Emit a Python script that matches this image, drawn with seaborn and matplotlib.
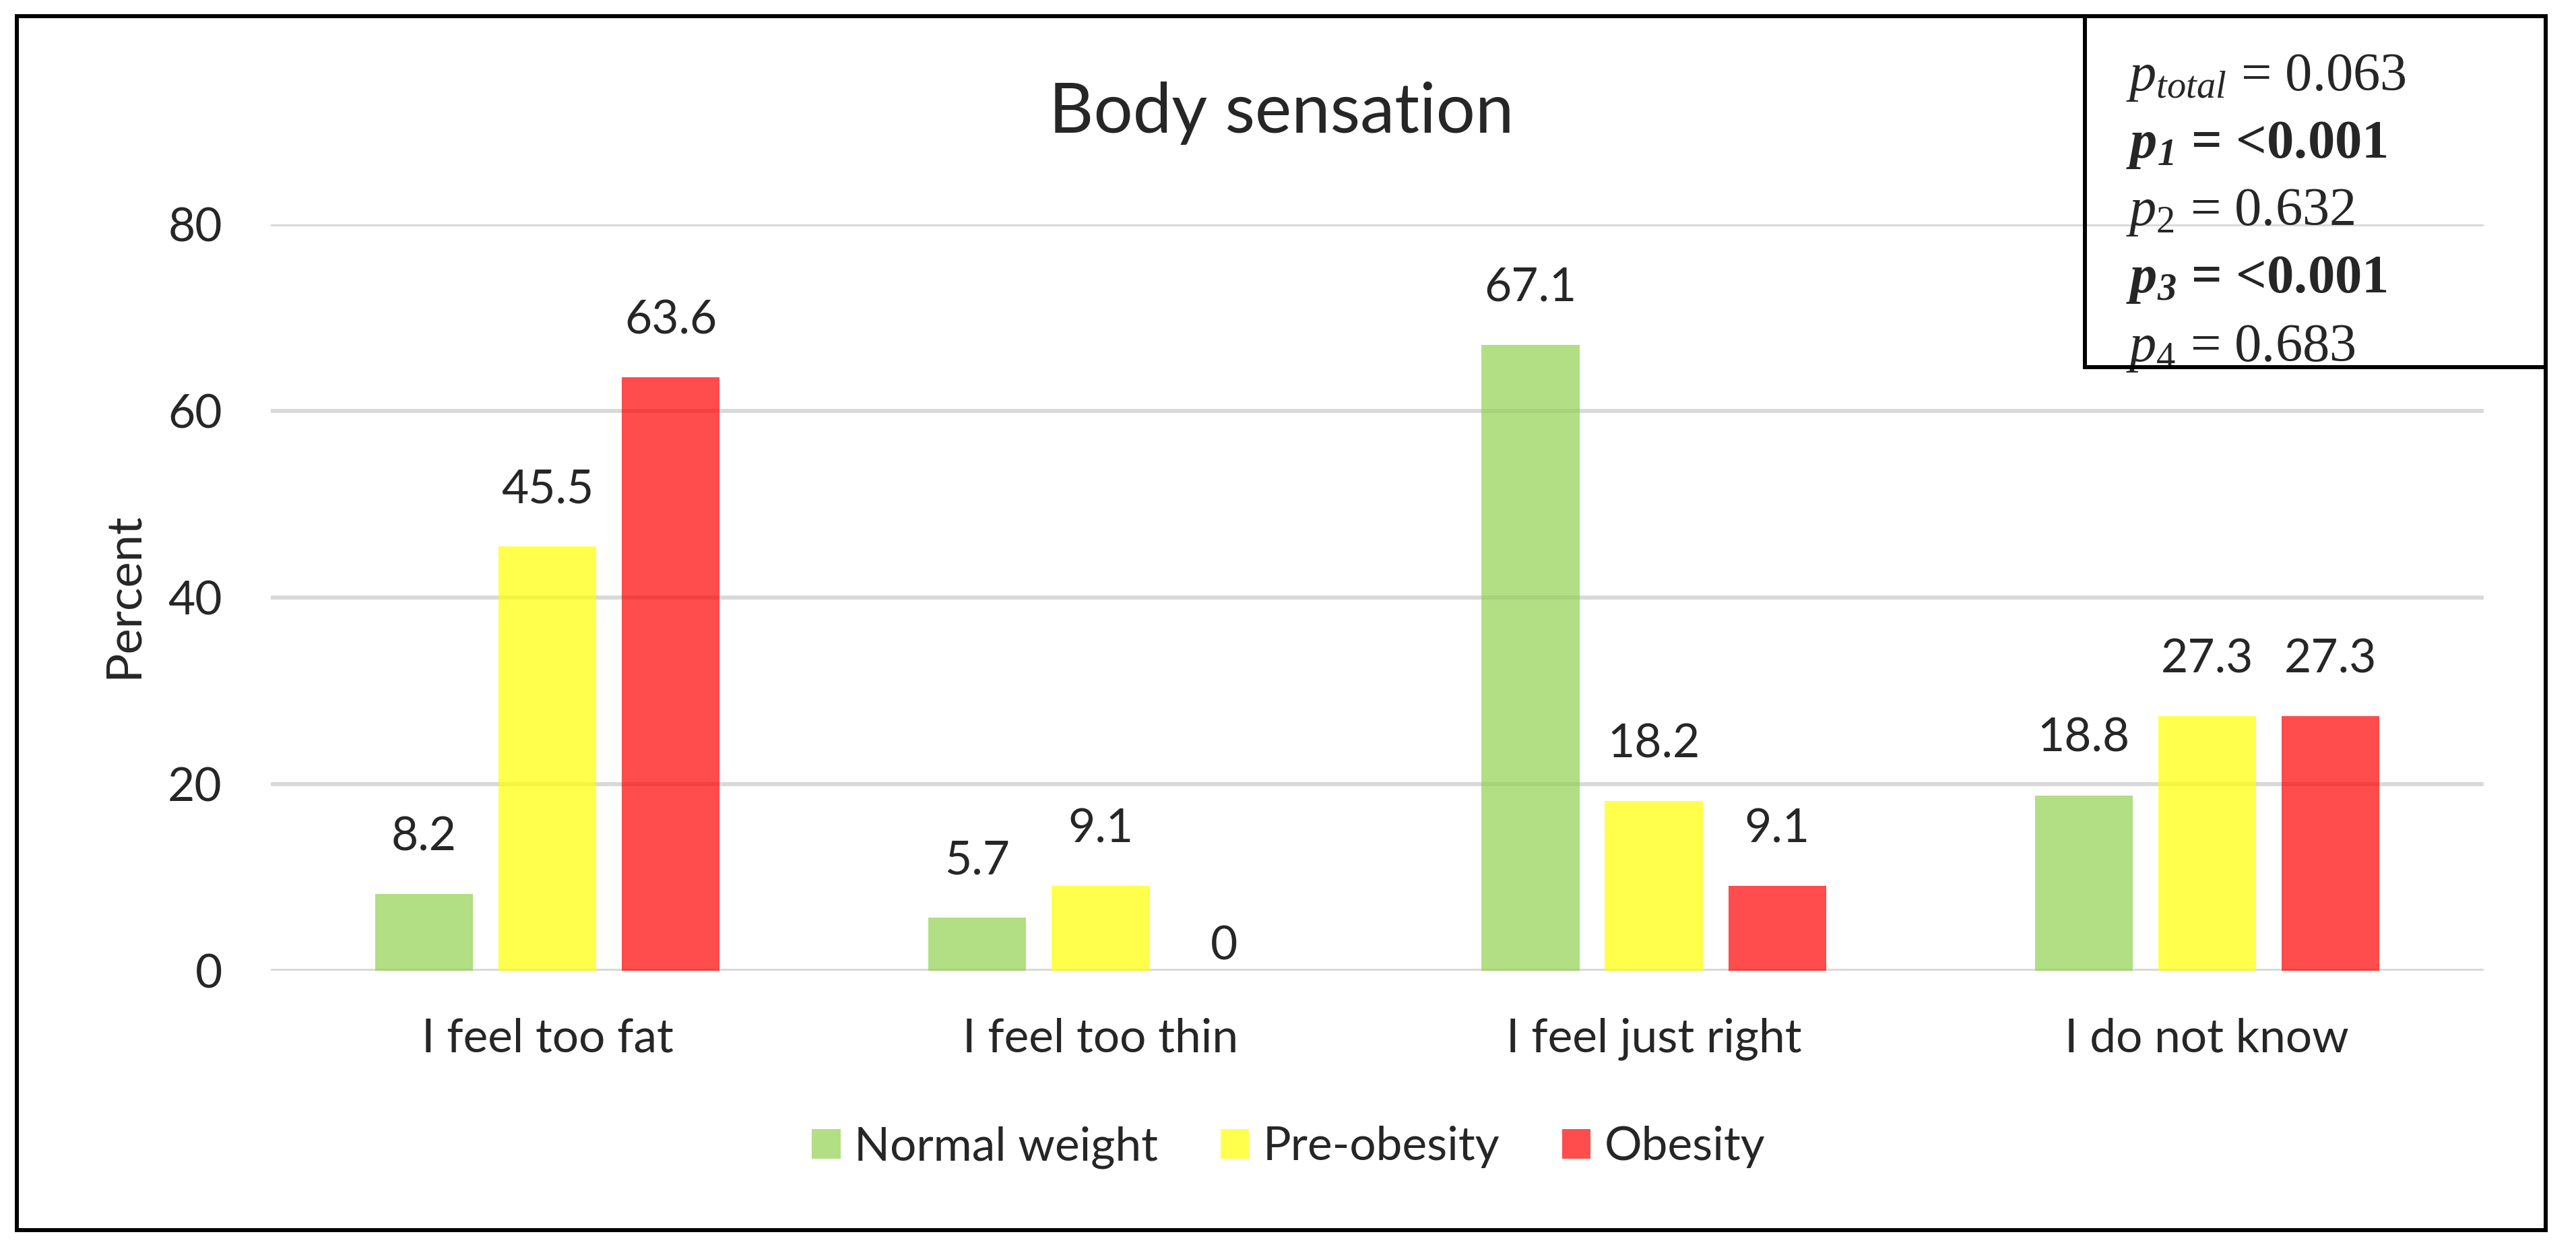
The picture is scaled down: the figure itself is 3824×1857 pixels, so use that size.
import pandas as pd
import numpy as np
import matplotlib.pyplot as plt
import matplotlib.patches as mpatches
import seaborn as sns

# data
categories = ['I feel too fat', 'I feel too thin', 'I feel just right', 'I do not know']
groups = ['Normal weight', 'Pre-obesity', 'Obesity']
normal_weight = [8.2, 5.7, 67.1, 18.8]
pre_obesity = [45.5, 9.1, 18.2, 27.3]
obesity = [63.6, 0, 9.1, 27.3]
colors = ['#92D050', '#FFFF00', '#FF0000']

p_lines = [r'$p_{total}$ = 0.063',
           r'$\mathbfit{p}_{\mathbfit{1}}$ = <0.001',
           r'$p_{2}$ = 0.632',
           r'$\mathbfit{p}_{\mathbfit{3}}$ = <0.001',
           r'$p_{4}$ = 0.683']
p_bold = [False, True, False, True, False]

df = pd.DataFrame({
    'category': categories * 3,
    'group': [g for g in groups for _ in categories],
    'percent': normal_weight + pre_obesity + obesity,
})

sns.set_theme(style='white')
plt.rcParams['font.family'] = ['Lato', 'DejaVu Sans']
plt.rcParams['mathtext.fontset'] = 'custom'
plt.rcParams['mathtext.rm'] = 'Liberation Serif'
plt.rcParams['mathtext.it'] = 'Liberation Serif:italic'
plt.rcParams['mathtext.bf'] = 'Liberation Serif:bold'
plt.rcParams['mathtext.bfit'] = 'Liberation Serif:italic:bold'

W, H = 3824, 1857
fig = plt.figure(figsize=(W / 100, H / 100), dpi=100)
ax = fig.add_axes([402 / W, 1 - 1441 / H, 3285 / W, 1108 / H])

sns.barplot(data=df, x='category', y='percent', hue='group',
            order=categories, hue_order=groups, palette=colors,
            saturation=1, width=0.669, gap=0.206, alpha=0.7,
            errorbar=None, linewidth=0, ax=ax)

ax.set_ylim(0, 80)
ax.set_yticks([0, 20, 40, 60, 80])
ax.set_axisbelow(True)
ax.yaxis.grid(True, color='#D9D9D9', linewidth=4.3)
ax.xaxis.grid(False)
for s in ax.spines.values():
    s.set_visible(False)
ax.tick_params(axis='y', length=0, pad=52, labelsize=50)
ax.tick_params(axis='x', length=0, pad=50, labelsize=50)
ax.set_xlabel('')
ax.set_ylabel('')

# value labels above the bars
for cont in ax.containers:
    for bar in cont:
        h = bar.get_height()
        pad = 3 if h == 0 else 38
        ax.annotate(f'{h:g}', (bar.get_x() + bar.get_width() / 2, h),
                    xytext=(0, pad), textcoords='offset points',
                    ha='center', va='bottom', fontsize=50)

ax.legend(loc='center', bbox_to_anchor=(1913 / W, 1 - 1703 / H),
          bbox_transform=fig.transFigure, ncol=3, frameon=False,
          fontsize=50, handlelength=0.61, handleheight=0.6,
          handletextpad=0.3, columnspacing=1.33)

fig.text(183 / W, 1 - 884 / H, 'Percent', rotation=90, ha='center',
         va='center', fontsize=52)
fig.text(1902 / W, 1 - 197 / H, 'Body sensation', ha='center',
         va='baseline', fontsize=74)

# p-value box
baselines = [134, 234, 334, 434, 536]
for txt, b, bold in zip(p_lines, baselines, p_bold):
    fig.text(3156 / W, 1 - b / H, txt, ha='left', va='baseline',
             fontsize=58, family='Liberation Serif',
             fontweight='bold' if bold else 'normal')

fig.patches.append(mpatches.Rectangle((3095 / W, 1 - 545 / H),
                                      (3779 - 3095) / W, (545 - 24) / H,
                                      transform=fig.transFigure, fill=False,
                                      edgecolor='black', linewidth=4.3,
                                      zorder=10))
fig.patches.append(mpatches.Rectangle((25 / W, 1 - 1826 / H),
                                      (3779 - 25) / W, (1826 - 24) / H,
                                      transform=fig.transFigure, fill=False,
                                      edgecolor='black', linewidth=4.3,
                                      zorder=10))

fig.savefig('out.png', dpi=100)
